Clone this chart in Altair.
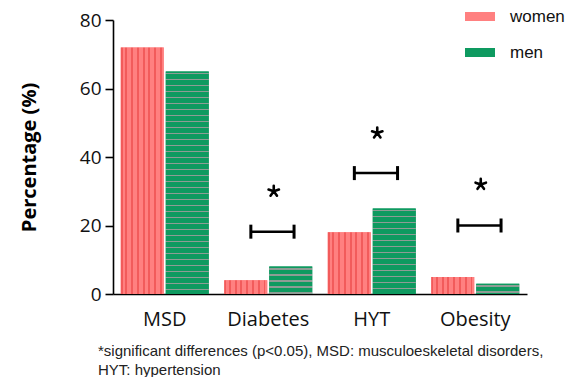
import altair as alt
import pandas as pd

categories = ["MSD", "Diabetes", "HYT", "Obesity"]
women = [72, 4, 18, 5]
men = [65, 8, 25, 3]
groups = ["women", "men"]

sig_cats = ["Diabetes", "HYT", "Obesity"]
bracket_y = [18.2, 35.3, 20.0]
star_y = [30.0, 47.0, 32.0]

footnote = ["*significant differences (p<0.05), MSD: musculoeskeletal disorders,",
            "HYT: hypertension"]

W, H, YMAX = 414, 274, 80

rows = []
for c, w, m in zip(categories, women, men):
    rows.append({"cat": c, "sex": "women", "value": w})
    rows.append({"cat": c, "sex": "men", "value": m})
df = pd.DataFrame(rows)
brk = pd.DataFrame({"cat": sig_cats, "y": bracket_y, "star": star_y})

W_LIGHT, W_DARK = "#FF8080", "#F25B5B"
M_GREEN, M_GRAY = "#0E9A60", "#8E9C95"


def striped(total, positions, lw, base, line, vertical):
    stops = [{"offset": 0, "color": base}]
    for p in positions:
        a = max(0.0, (p - lw / 2) / total)
        b = min(1.0, (p + lw / 2) / total)
        stops += [{"offset": a, "color": base}, {"offset": a, "color": line},
                  {"offset": b, "color": line}, {"offset": b, "color": base}]
    stops.append({"offset": 1, "color": base})
    g = {"gradient": "linear", "stops": stops, "x1": 0, "y1": 0}
    if vertical:
        g.update({"x2": 0, "y2": 1})
    else:
        g.update({"x2": 1, "y2": 0})
    return g


women_fill = striped(43, [1, 5.5, 11.3, 17.1, 22.9, 28.7, 34.5, 40.3], 1.9,
                     W_LIGHT, W_DARK, False)

x_enc = alt.X("cat:N", sort=categories,
              scale=alt.Scale(domain=categories, paddingInner=0.15, paddingOuter=0.075),
              axis=alt.Axis(title=None, ticks=False, labelAngle=0, labelPadding=15,
                            labelFont="Open Sans", labelFontSize=20, labelColor="#111"))
xo_enc = alt.XOffset("sex:N", sort=groups,
                     scale=alt.Scale(domain=groups, paddingInner=0.045, paddingOuter=0))
y_enc = alt.Y("value:Q", scale=alt.Scale(domain=[0, YMAX], nice=False),
              axis=alt.Axis(title="Percentage (%)", values=[0, 20, 40, 60, 80],
                            grid=False, tickSize=8, labelPadding=4,
                            labelFont="Open Sans", labelFontSize=19, labelColor="#111",
                            titleFont="Open Sans", titleFontSize=20, titleFontWeight="bold",
                            titleColor="#000", titleX=-84, titleY=H / 2,
                            titleBaseline="middle", titleAlign="center"))

base_bars = alt.Chart(df).mark_bar().encode(
    x=x_enc, xOffset=xo_enc, y=y_enc,
    color=alt.Color("sex:N", sort=groups,
                    scale=alt.Scale(domain=groups, range=[W_LIGHT, M_GREEN]),
                    legend=alt.Legend(title=None, orient="none", legendX=352, legendY=-18.5,
                                      symbolType="M-1,-0.3H1V0.3H-1Z", symbolSize=900,
                                      symbolStrokeWidth=0, symbolOpacity=1,
                                      labelFont="Liberation Sans", labelFontSize=17,
                                      labelColor="#111", labelOffset=15, rowPadding=13,
                                      padding=0)),
)

women_bars = alt.Chart(df).transform_filter(alt.datum.sex == "women").mark_bar(
    fill=women_fill).encode(x=x_enc, xOffset=xo_enc, y=y_enc)

men_layers = []
for c, v in zip(categories, men):
    h = v * H / YMAX
    pos = []
    p = 2.2
    while p < h - 1:
        pos.append(p)
        p += 6.0
    fill = striped(h, pos, 1.6, M_GREEN, M_GRAY, True)
    men_layers.append(
        alt.Chart(df).transform_filter((alt.datum.sex == "men") & (alt.datum.cat == c))
        .mark_bar(fill=fill).encode(x=x_enc, xOffset=xo_enc, y=y_enc)
    )

bracket_line = alt.Chart(brk).mark_rule(
    color="black", strokeWidth=2.5, xOffset=-17.4, x2Offset=25.8
).encode(x=alt.X("cat:N"), x2=alt.X2("cat"), y=alt.Y("y:Q"))

cap_left = alt.Chart(brk).mark_rule(
    color="black", strokeWidth=3, xOffset=-17.4, yOffset=-7, y2Offset=7
).encode(x=alt.X("cat:N"), y=alt.Y("y:Q"), y2=alt.Y2("y"))

cap_right = alt.Chart(brk).mark_rule(
    color="black", strokeWidth=3, xOffset=25.8, yOffset=-7, y2Offset=7
).encode(x=alt.X("cat:N"), y=alt.Y("y:Q"), y2=alt.Y2("y"))

asterisk = "M0,0L0,-1M0,0L0.951,-0.309M0,0L0.588,0.809M0,0L-0.588,0.809M0,0L-0.951,-0.309"
stars = alt.Chart(brk).mark_point(
    shape=asterisk, filled=False, stroke="black", strokeWidth=2.6, size=120,
    opacity=1, xOffset=5.5, strokeCap="round"
).encode(x=alt.X("cat:N"), y=alt.Y("star:Q"))

chart = alt.layer(base_bars, women_bars, *men_layers, bracket_line, cap_left, cap_right,
                  stars).properties(
    width=W, height=H,
    autosize=alt.AutoSizeParams(type="none"),
    padding={"left": 105, "top": 12, "right": 38, "bottom": 83},
    title=alt.TitleParams(text=footnote, orient="bottom", anchor="start", frame="group",
                          dx=-15, offset=15, font="Liberation Sans", fontSize=15,
                          fontWeight="normal", color="#222", lineHeight=19),
).configure_view(stroke=None).configure_axis(
    domainColor="black", domainWidth=1.6, tickColor="black", tickWidth=1.6
)

chart.save("out.html", embed_options={"renderer": "svg", "actions": False})
